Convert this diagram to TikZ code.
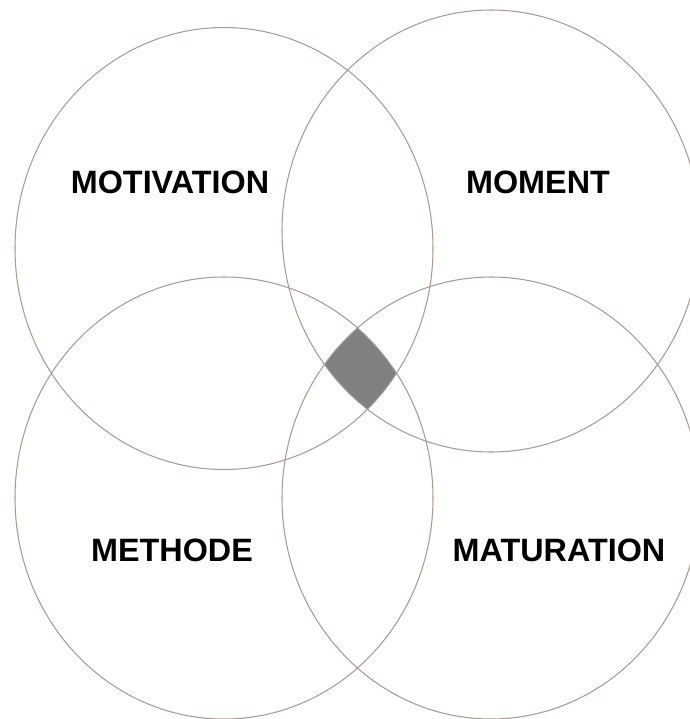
\documentclass[tikz,border=0pt]{standalone}
\usepackage{fontspec}
\setmainfont{Liberation Sans}
\definecolor{ringcol}{RGB}{168,154,148}
\definecolor{corecol}{RGB}{128,128,128}

\begin{document}
\begin{tikzpicture}[x=0.025cm, y=-0.025cm]
  \useasboundingbox (0,0) rectangle (690,719);

  % 中心区域（四圆交集）
  \begin{scope}
    \clip (224,248.5) ellipse [x radius=209, y radius=221];
    \clip (491,231) ellipse [x radius=209, y radius=221];
    \clip (224,498) ellipse [x radius=209, y radius=221];
    \fill[corecol] (491,498) ellipse [x radius=209, y radius=221];
  \end{scope}

  % 四个圆
  \draw[ringcol, line width=0.75pt] (224,248.5) ellipse [x radius=209, y radius=221];
  \draw[ringcol, line width=0.75pt] (491,231) ellipse [x radius=209, y radius=221];
  \draw[ringcol, line width=0.75pt] (224,498) ellipse [x radius=209, y radius=221];
  \draw[ringcol, line width=0.75pt] (491,498) ellipse [x radius=209, y radius=221];

  % 标签
  \node[font=\fontsize{23}{27}\selectfont\bfseries] (motivation) at (170,182) {MOTIVATION};
  \node[font=\fontsize{23}{27}\selectfont\bfseries] (moment) at (538,182) {MOMENT};
  \node[font=\fontsize{23}{27}\selectfont\bfseries] (methode) at (172,550) {METHODE};
  \node[font=\fontsize{23}{27}\selectfont\bfseries] (maturation) at (559,550) {MATURATION};
\end{tikzpicture}
\end{document}
